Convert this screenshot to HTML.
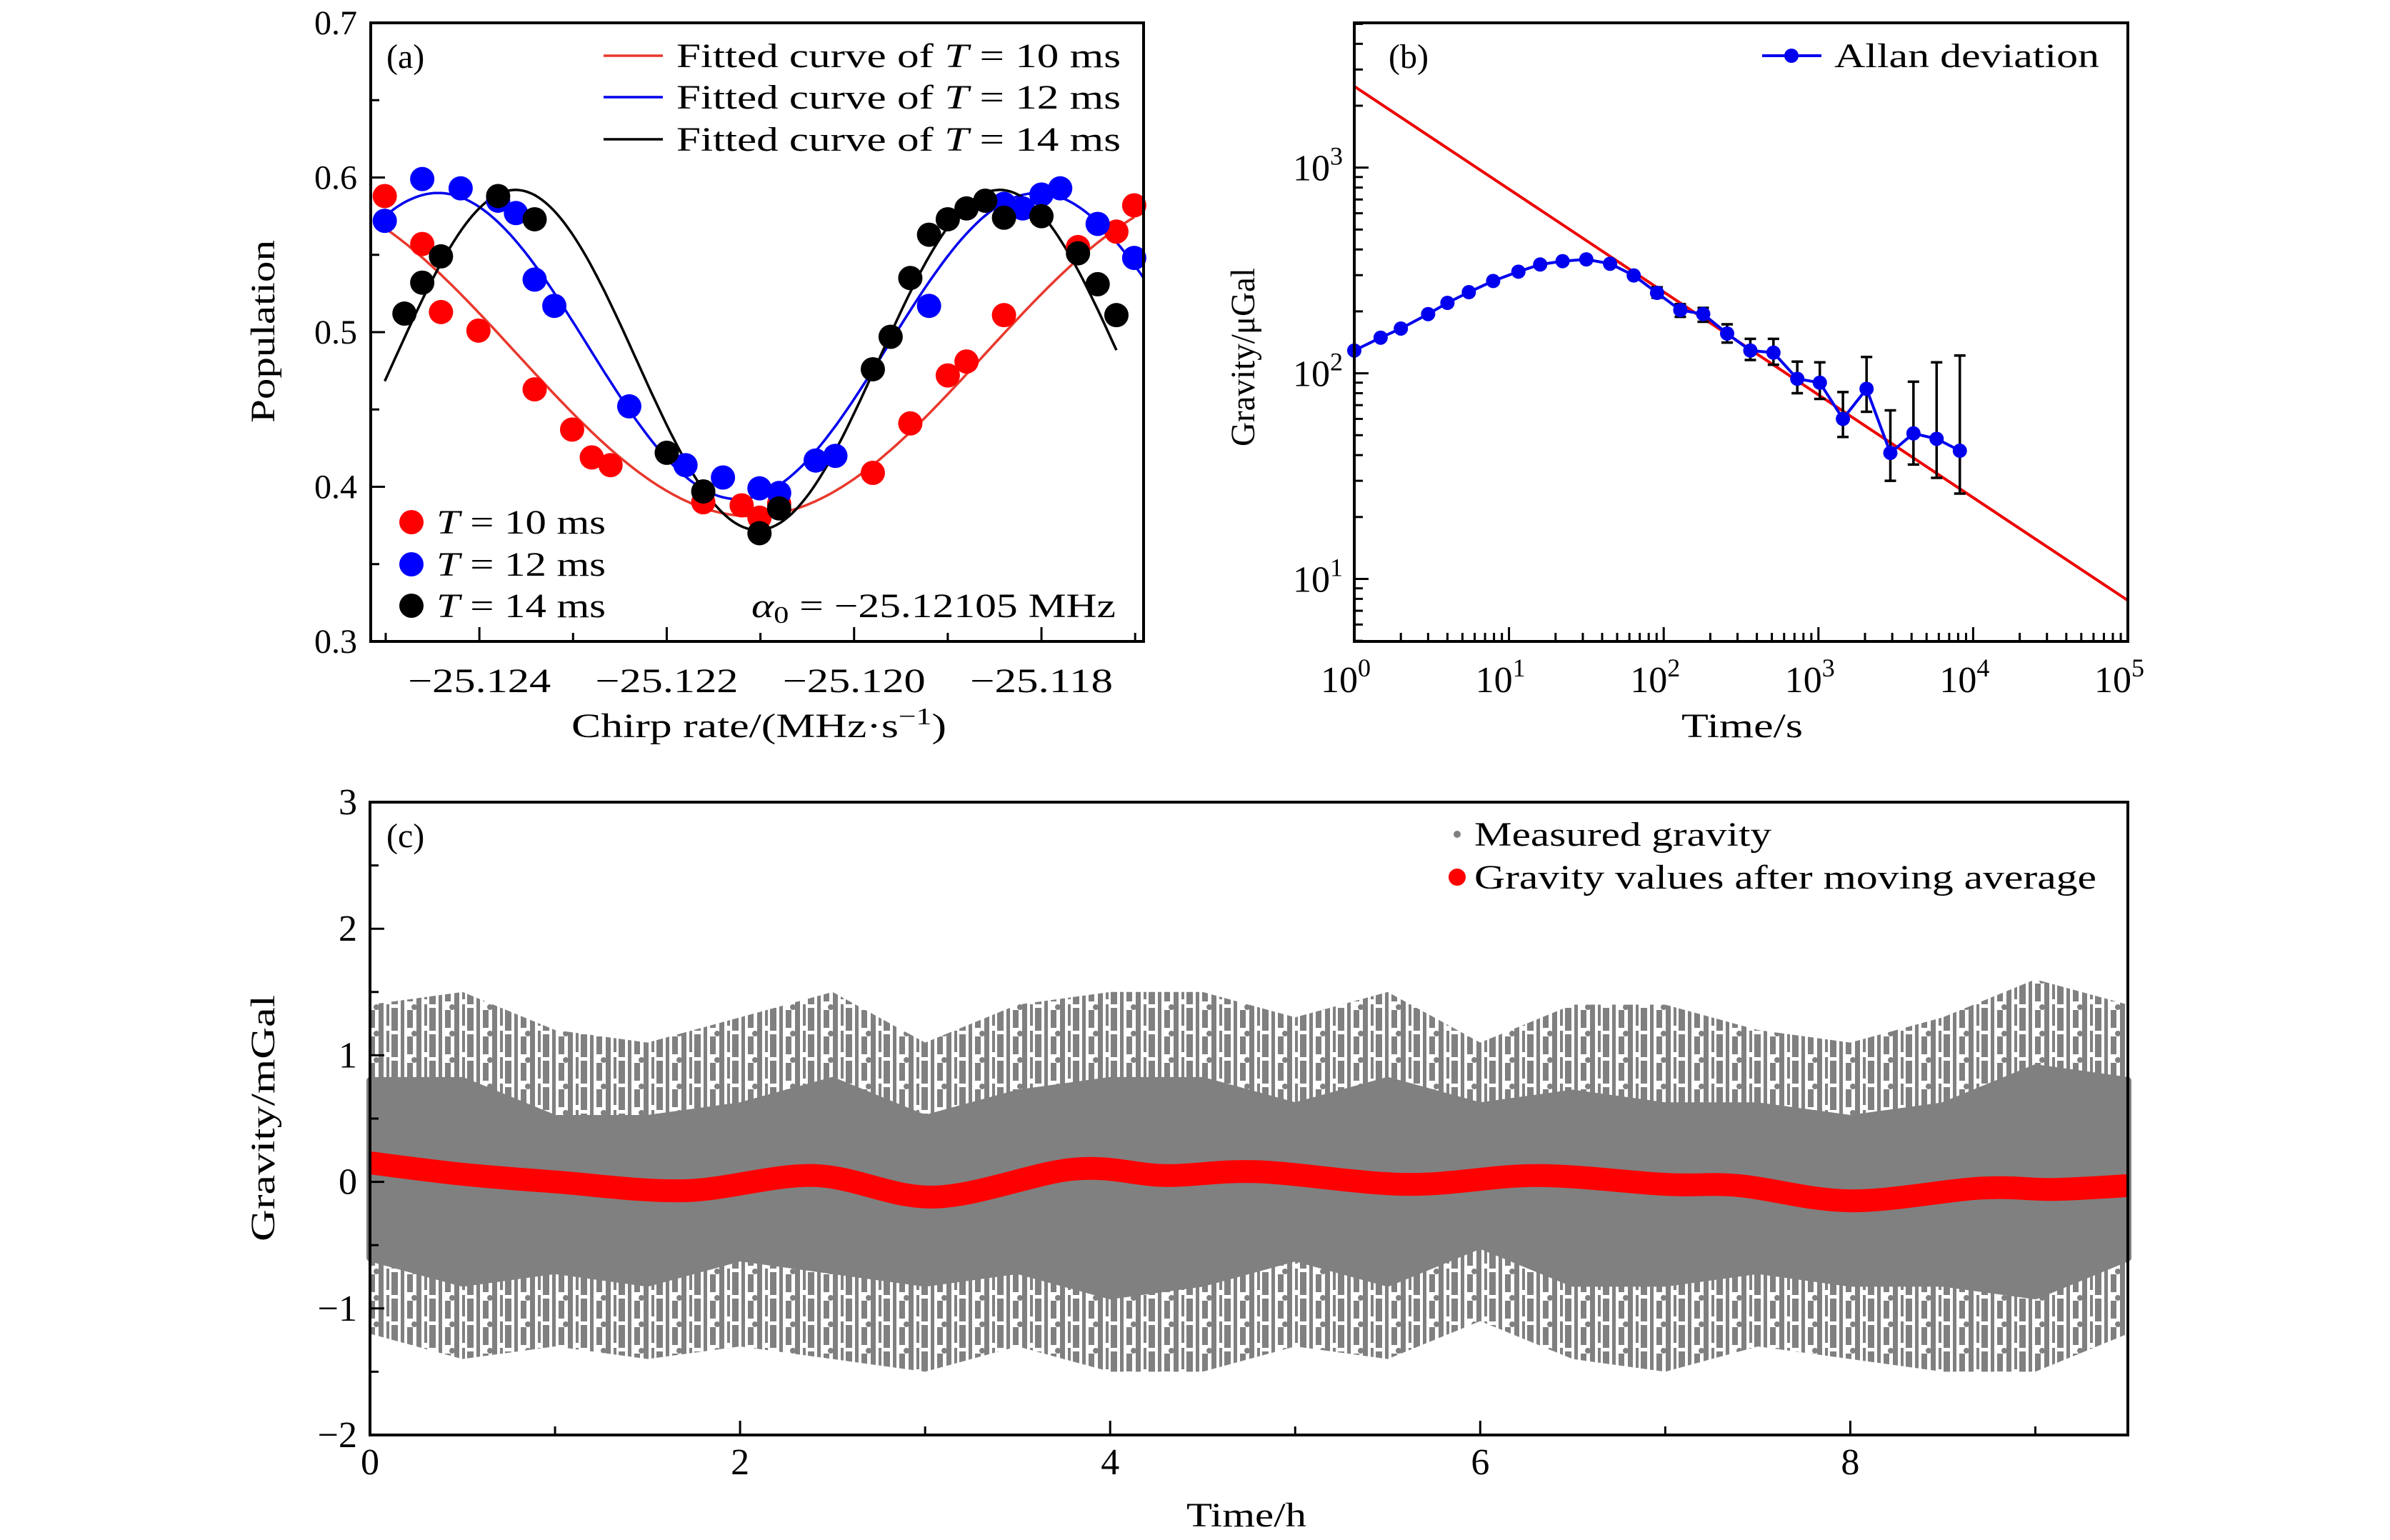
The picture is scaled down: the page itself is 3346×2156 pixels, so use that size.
<!DOCTYPE html>
<html><head><meta charset="utf-8"><style>
html,body{margin:0;padding:0;background:#fff;}
svg{display:block;}
text{font-family:"Liberation Serif","DejaVu Serif",serif;fill:#000;}
</style></head>
<body>
<svg id="fig" width="3346" height="2156" viewBox="0 0 3346 2156" xmlns="http://www.w3.org/2000/svg">
<defs>
<pattern id="stripes" patternUnits="userSpaceOnUse" width="53" height="37">
<rect x="0" y="0" width="7" height="37" fill="#808080"/>
<rect x="11" y="0" width="4" height="30" fill="#808080"/>
<rect x="18" y="5" width="9" height="32" fill="#808080"/>
<rect x="31" y="0" width="5" height="37" fill="#808080"/>
<rect x="40" y="8" width="8" height="25" fill="#808080"/>
<circle cx="50" cy="4" r="4" fill="#808080"/>
</pattern>
</defs>
</svg>
<script>
// ---------- Panel (a) data ----------
const aRedX=[-25.12501,-25.12461,-25.12441,-25.12401,-25.12341,-25.12301,-25.12280,-25.12260,-25.12161,-25.12120,-25.12101,-25.12080,-25.11980,-25.11940,-25.11900,-25.11880,-25.11840,-25.11761,-25.11720,-25.11701];
const aRedY=[0.588,0.557,0.513,0.501,0.463,0.437,0.419,0.414,0.390,0.388,0.380,0.389,0.409,0.441,0.472,0.481,0.511,0.555,0.565,0.582];
const aBlueX=[-25.12501,-25.12461,-25.12420,-25.12380,-25.12361,-25.12341,-25.12320,-25.12240,-25.12180,-25.12140,-25.12101,-25.12080,-25.12041,-25.12020,-25.11920,-25.11840,-25.11820,-25.11800,-25.11780,-25.11740,-25.11701];
const aBlueY=[0.572,0.599,0.593,0.585,0.577,0.534,0.517,0.452,0.414,0.406,0.399,0.396,0.417,0.420,0.517,0.583,0.580,0.589,0.593,0.570,0.548];
const aBlackX=[-25.12480,-25.12461,-25.12441,-25.12380,-25.12341,-25.12200,-25.12161,-25.12101,-25.12080,-25.11980,-25.11961,-25.11940,-25.11920,-25.11900,-25.11880,-25.11860,-25.11840,-25.11800,-25.11761,-25.11740,-25.11720];
const aBlackY=[0.512,0.532,0.549,0.588,0.573,0.422,0.397,0.370,0.386,0.476,0.497,0.535,0.563,0.573,0.580,0.585,0.574,0.575,0.551,0.531,0.511];
const fitOffset=[0.486,0.491,0.482];
const fitAmp=[0.105,0.099,0.110];
const fitPeriod=[0.0100,0.0064,0.00517];
const fitCenter=[-25.1211,-25.12124,-25.12103];
const fitStart=[-25.12501,-25.12501,-25.12501];
const fitEnd=[-25.11701,-25.11691,-25.11720];
const aXTicks=[-25.124,-25.122,-25.120,-25.118];
const aXTickLabels=["\u221225.124","\u221225.122","\u221225.120","\u221225.118"];
const aYTicks=[0.3,0.4,0.5,0.6,0.7];
const aYTickLabels=["0.3","0.4","0.5","0.6","0.7"];
// ---------- Panel (b) data ----------
const bT=[1,1.48,2,3,4,5.5,7.9,11.5,15.9,22.2,31.6,45,64,90.6,128,180,257,363,512,730,1021,1440,2047,2917,4113,5807,8204];
const bDev=[129,149,165,194,220,248,281,312,338,351,358,341,299,246,203,194,156,129,126,94,90,60,84,41,51,48,42];
const bErrT=[90.6,128,180,257,363,512,730,1021,1440,2047,2917,4113,5807,8204];
const bErrHi=[262,217,208,173,147,147,114,113,81,120,66,91,113,122];
const bErrLo=[233,188,178,141,116,110,80,75,49,65,30,36,31,26];
const bFitCoef=[2485];
const bFitSlope=[-0.5];
const bFitRange=[1,100000];
const bXExp=[0,1,2,3,4,5];
const bYExp=[1,2,3];
// ---------- Panel (c) data ----------
const cT=[0,0.5,1,1.5,2,2.5,3,3.5,4,4.5,5,5.5,6,6.5,7,7.5,8,8.5,9,9.5];
const cOuterUp=[1.4,1.5,1.2,1.1,1.3,1.5,1.1,1.4,1.5,1.5,1.3,1.5,1.1,1.4,1.4,1.2,1.1,1.3,1.6,1.4];
const cOuterLo=[-1.2,-1.4,-1.3,-1.4,-1.3,-1.4,-1.5,-1.3,-1.5,-1.5,-1.3,-1.4,-1.1,-1.4,-1.5,-1.3,-1.4,-1.5,-1.5,-1.2];
const cCoreUp=[0.8,0.8,0.5,0.5,0.6,0.8,0.5,0.7,0.8,0.8,0.6,0.8,0.6,0.7,0.6,0.6,0.5,0.6,0.9,0.8];
const cCoreLo=[-0.6,-0.8,-0.7,-0.8,-0.6,-0.7,-0.8,-0.7,-0.9,-0.8,-0.6,-0.8,-0.5,-0.8,-0.8,-0.7,-0.8,-0.8,-0.9,-0.6];
const avgT=[0,0.5,1,1.7,2.4,3.05,3.8,4.3,4.8,5.6,6.3,7,7.4,8,8.7,9.1,9.5];
const avgG=[0.15,0.06,0.0,-0.07,0.05,-0.12,0.1,0.05,0.08,-0.02,0.05,-0.02,-0.03,-0.15,-0.05,-0.06,-0.03];
const cXTicks=[0,2,4,6,8];
const cYTicks=[-2,-1,0,1,2,3];
const cYTickLabels=["\u22122","\u22121","0","1","2","3"];

const NS="http://www.w3.org/2000/svg";
const svg=document.getElementById('fig');
function mk(tag,attrs,parent){const e=document.createElementNS(NS,tag);for(const k in attrs)e.setAttribute(k,attrs[k]);(parent||svg).appendChild(e);return e;}
function txt(s,x,y,size,anchor,parent){const t=mk('text',{x:x,y:y,'font-size':size,'text-anchor':anchor||'start'},parent);t.textContent=s;return t;}
const FS=48;

// ===== Panel A =====
const A={l:519,r:1601,t:32,b:898,x0:-25.12516,x1:-25.11691,y0:0.3,y1:0.7};
const ax=v=>A.l+(v-A.x0)/(A.x1-A.x0)*(A.r-A.l);
const ay=v=>A.b-(v-A.y0)/(A.y1-A.y0)*(A.b-A.t);
const gA=mk('g',{});


const fitColors=['#e8382c','#0000ee','#000'];
const fitNames=['fit-curve-10ms','fit-curve-12ms','fit-curve-14ms'];
for(let i=0;i<3;i++){
  let d='';const N=200;
  for(let k=0;k<=N;k++){const x=fitStart[i]+(fitEnd[i]-fitStart[i])*k/N;
    const y=fitOffset[i]-fitAmp[i]*Math.cos(2*Math.PI*(x-fitCenter[i])/fitPeriod[i]);
    d+=(k?'L':'M')+ax(x).toFixed(1)+','+ay(y).toFixed(1);}
  const p=mk('path',{d:d,fill:'none',stroke:fitColors[i],'stroke-width':3.5},gA);
  
  
}
const ptSets=[[aRedX,aRedY,'#ff0000','points-10ms'],[aBlueX,aBlueY,'#0000ff','points-12ms'],[aBlackX,aBlackY,'#000000','points-14ms']];
ptSets.forEach(s=>{
  const g=mk('g',{fill:s[2]},gA);
  
  
  s[0].forEach((x,i)=>{const c=mk('circle',{cx:ax(x),cy:ay(s[1][i]),r:17},g);
    
    });
});
const fA=mk('rect',{x:A.l,y:A.t,width:A.r-A.l,height:A.b-A.t,fill:'none',stroke:'#000','stroke-width':4},gA);


for(let v=-25.125;v<=-25.117+1e-9;v+=0.001){const X=ax(v);const major=aXTicks.some(t=>Math.abs(t-v)<1e-7);
  mk('line',{x1:X,x2:X,y1:A.b,y2:A.b-(major?20:12),stroke:'#000','stroke-width':3},gA);}
aXTicks.forEach((v,i)=>{const t=mk('text',{x:ax(v)-100,y:969,'font-size':FS,textLength:200,lengthAdjust:'spacingAndGlyphs'},gA);t.textContent=aXTickLabels[i];
  
  });
for(let v=0.3;v<=0.7+1e-9;v+=0.05){const Y=ay(v);const major=Math.abs(v*10-Math.round(v*10))<1e-6;
  mk('line',{x1:A.l,x2:A.l+(major?20:12),y1:Y,y2:Y,stroke:'#000','stroke-width':3},gA);}
aYTicks.forEach((v,i)=>{const t=txt(aYTickLabels[i],500,ay(v)+16,FS,'end',gA);
  
  });
let t;
t=mk('text',{x:800,y:1032,'font-size':FS,textLength:525,lengthAdjust:'spacingAndGlyphs'},gA);
t.innerHTML='Chirp rate/(MHz\u00b7s<tspan dy="-18" font-size="34">\u22121</tspan><tspan dy="18">)</tspan>';


t=mk('text',{x:-128,y:0,'font-size':FS,textLength:256,lengthAdjust:'spacingAndGlyphs',transform:'translate(384,464) rotate(-90)'},gA);t.textContent='Population';


t=txt('(a)',541,95,FS,'start',gA);


const legRows=[78,136,195];const legTxt=['10','12','14'];
legRows.forEach((y,i)=>{
  const g=mk('g',{},gA);
  
  
  mk('line',{x1:845,x2:928,y1:y,y2:y,stroke:fitColors[i],'stroke-width':3.5},g);
  const tt=mk('text',{x:947,y:y+16,'font-size':FS,textLength:622,lengthAdjust:'spacingAndGlyphs'},g);
  tt.innerHTML='Fitted curve of <tspan font-style="italic">T</tspan> = '+legTxt[i]+' ms';
});
const dotRows=[731,790,848];const dotCols=['#ff0000','#0000ff','#000'];
dotRows.forEach((y,i)=>{
  const g=mk('g',{},gA);
  
  
  mk('circle',{cx:576,cy:y,r:17,fill:dotCols[i]},g);
  const tt=mk('text',{x:611,y:y+16,'font-size':FS,textLength:237,lengthAdjust:'spacingAndGlyphs'},g);
  tt.innerHTML='<tspan font-style="italic">T</tspan> = '+legTxt[i]+' ms';
});
t=mk('text',{x:1052,y:864,'font-size':FS,textLength:510,lengthAdjust:'spacingAndGlyphs'},gA);
t.innerHTML='<tspan font-style="italic">\u03b1</tspan><tspan font-size="34" dy="8">0</tspan><tspan dy="-8"> = \u221225.12105 MHz</tspan>';



// ===== Panel B =====
const B={l:1896,r:2979,t:32,b:898,lx0:0,lx1:5,ly0:0.696,ly1:3.704};
const bx=v=>B.l+(Math.log10(v)-B.lx0)/(B.lx1-B.lx0)*(B.r-B.l);
const by=v=>B.b-(Math.log10(v)-B.ly0)/(B.ly1-B.ly0)*(B.b-B.t);
const gB=mk('g',{});


let fd='';for(let k=0;k<=1;k++){const x=bFitRange[k];const y=bFitCoef[0]*Math.pow(x,bFitSlope[0]);fd+=(k?'L':'M')+bx(x)+','+by(y);}
const clip=mk('clipPath',{id:'clipB'},gB);mk('rect',{x:B.l,y:B.t,width:B.r-B.l,height:B.b-B.t},clip);
t=mk('path',{d:fd,stroke:'#ee0000','stroke-width':4,fill:'none','clip-path':'url(#clipB)'},gB);


const gE=mk('g',{stroke:'#000','stroke-width':3.5},gB);


bErrT.forEach((x,i)=>{const X=bx(x);
  mk('line',{x1:X,x2:X,y1:by(bErrHi[i]),y2:by(bErrLo[i])},gE);
  mk('line',{x1:X-8,x2:X+8,y1:by(bErrHi[i]),y2:by(bErrHi[i])},gE);
  mk('line',{x1:X-8,x2:X+8,y1:by(bErrLo[i]),y2:by(bErrLo[i])},gE);});
let ad='';bT.forEach((x,i)=>{ad+=(i?'L':'M')+bx(x).toFixed(1)+','+by(bDev[i]).toFixed(1);});
t=mk('path',{d:ad,stroke:'#0000ee','stroke-width':4,fill:'none'},gB);


const gP=mk('g',{fill:'#0000ee'},gB);


bT.forEach((x,i)=>{const c=mk('circle',{cx:bx(x),cy:by(bDev[i]),r:10},gP);
  
  });
t=mk('rect',{x:B.l,y:B.t,width:B.r-B.l,height:B.b-B.t,fill:'none',stroke:'#000','stroke-width':4},gB);


for(let e=0;e<5;e++)for(let m=1;m<10;m++){const X=bx(m*Math.pow(10,e));mk('line',{x1:X,x2:X,y1:B.b,y2:B.b-(m==1?20:12),stroke:'#000','stroke-width':3},gB);}
bXExp.forEach(e=>{const tt=mk('text',{x:bx(Math.pow(10,e))-12,y:969,'font-size':52,'text-anchor':'middle'},gB);
  tt.innerHTML='10<tspan font-size="36" dy="-22">'+e+'</tspan>';
  
  });
for(let e=0;e<4;e++)for(let m=1;m<10;m++){const v=m*Math.pow(10,e);const L=Math.log10(v);if(L<B.ly0||L>B.ly1)continue;const Y=by(v);mk('line',{x1:B.l,x2:B.l+(m==1?20:12),y1:Y,y2:Y,stroke:'#000','stroke-width':3},gB);}
bYExp.forEach(e=>{const tt=mk('text',{x:1880,y:by(Math.pow(10,e))+18,'font-size':52,'text-anchor':'end'},gB);
  tt.innerHTML='10<tspan font-size="36" dy="-22">'+e+'</tspan>';
  
  });
t=mk('text',{x:2354,y:1032,'font-size':FS,textLength:170,lengthAdjust:'spacingAndGlyphs'},gB);t.textContent='Time/s';


t=mk('text',{x:-125,y:0,'font-size':FS,textLength:250,lengthAdjust:'spacingAndGlyphs',transform:'translate(1756,500) rotate(-90)'},gB);t.textContent='Gravity/\u03bcGal';


t=txt('(b)',1944,95,FS,'start',gB);


const lgB=mk('g',{},gB);


mk('line',{x1:2467,x2:2550,y1:78,y2:78,stroke:'#0000ee','stroke-width':4},lgB);
mk('circle',{cx:2508,cy:78,r:10,fill:'#0000ee'},lgB);
t=mk('text',{x:2568,y:94,'font-size':FS,textLength:371,lengthAdjust:'spacingAndGlyphs'},lgB);t.textContent='Allan deviation';

// ===== Panel C =====
const C={l:518,r:2979,t:1123,b:2009,x0:0,x1:9.5,y0:-2,y1:3};
const cx=v=>C.l+(v-C.x0)/(C.x1-C.x0)*(C.r-C.l);
const cy=v=>C.b-(v-C.y0)/(C.y1-C.y0)*(C.b-C.t);
const gC=mk('g',{});


function band(up,lo){let d='';cT.forEach((x,i)=>{d+=(i?'L':'M')+cx(x)+','+cy(up[i]);});
  for(let i=cT.length-1;i>=0;i--)d+='L'+cx(cT[i])+','+cy(lo[i]);return d+'Z';}
t=mk('path',{d:band(cOuterUp,cOuterLo),fill:'url(#stripes)'},gC);


t=mk('path',{d:band(cCoreUp,cCoreLo),fill:'#808080',stroke:'#808080','stroke-width':10,'stroke-linejoin':'round'},gC);


const P=avgT.map((x,i)=>[cx(x),cy(avgG[i])]);
let md='M'+P[0][0]+','+P[0][1];
for(let i=0;i<P.length-1;i++){const p0=P[Math.max(0,i-1)],p1=P[i],p2=P[i+1],p3=P[Math.min(P.length-1,i+2)];
  md+='C'+(p1[0]+(p2[0]-p0[0])/6)+','+(p1[1]+(p2[1]-p0[1])/6)+' '+(p2[0]-(p3[0]-p1[0])/6)+','+(p2[1]-(p3[1]-p1[1])/6)+' '+p2[0]+','+p2[1];}
t=mk('path',{d:md,stroke:'#ff0000','stroke-width':32,fill:'none'},gC);


t=mk('rect',{x:C.l,y:C.t,width:C.r-C.l,height:C.b-C.t,fill:'none',stroke:'#000','stroke-width':4},gC);


for(let v=0;v<=9;v++){const X=cx(v);mk('line',{x1:X,x2:X,y1:C.b,y2:C.b-(v%2==0?20:12),stroke:'#000','stroke-width':3},gC);}
cXTicks.forEach(v=>{const tt=txt(String(v),cx(v),2064,52,'middle',gC);
  
  });
for(let v=-2;v<=3;v+=0.5){const Y=cy(v);mk('line',{x1:C.l,x2:C.l+(Number.isInteger(v)?20:12),y1:Y,y2:Y,stroke:'#000','stroke-width':3},gC);}
cYTicks.forEach((v,i)=>{const tt=txt(cYTickLabels[i],500,cy(v)+17,52,'end',gC);
  
  });
t=mk('text',{x:1661,y:2137,'font-size':FS,textLength:168,lengthAdjust:'spacingAndGlyphs'},gC);t.textContent='Time/h';


t=mk('text',{x:-172,y:0,'font-size':FS,textLength:345,lengthAdjust:'spacingAndGlyphs',transform:'translate(384,1566) rotate(-90)'},gC);t.textContent='Gravity/mGal';


t=txt('(c)',541,1186,FS,'start',gC);


const lc1=mk('g',{},gC);


mk('circle',{cx:2040,cy:1168,r:5,fill:'#808080'},lc1);
t=mk('text',{x:2064,y:1184,'font-size':FS,textLength:416,lengthAdjust:'spacingAndGlyphs'},lc1);t.textContent='Measured gravity';
const lc2=mk('g',{},gC);


mk('circle',{cx:2040,cy:1228,r:12,fill:'#ff0000'},lc2);
t=mk('text',{x:2064,y:1244,'font-size':FS,textLength:871,lengthAdjust:'spacingAndGlyphs'},lc2);t.textContent='Gravity values after moving average';
</script>
</body></html>
